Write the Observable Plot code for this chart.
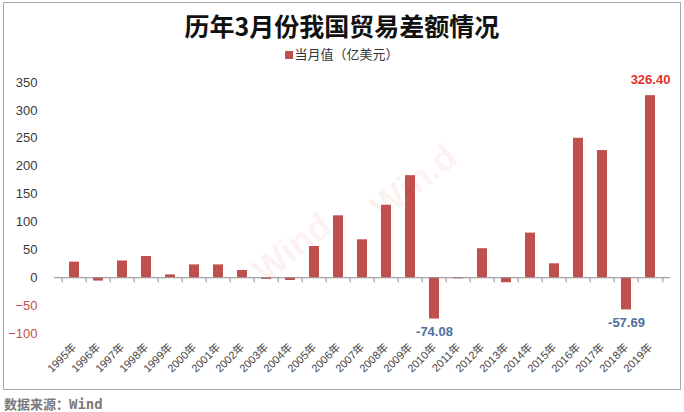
<!DOCTYPE html>
<html><head><meta charset="utf-8">
<script src="https://cdn.jsdelivr.net/npm/d3@7"></script>
<script src="https://cdn.jsdelivr.net/npm/@observablehq/plot@0.6"></script>
<style>
body{margin:0;background:#fff;}
#wrap{position:relative;width:684px;height:412px;overflow:hidden;font-family:"Liberation Sans","Noto Sans CJK SC",sans-serif;background:#fff;}
#frame{position:absolute;left:3px;top:2px;width:676px;height:386px;border:1px solid #a6a6a6;}
#title{position:absolute;left:0;top:10px;width:684px;text-align:center;font:bold 25px/30px "Noto Sans CJK SC","Liberation Sans",sans-serif;color:#111;}
#legend{position:absolute;left:0;top:47px;width:684px;text-align:center;font:13px/16px "Liberation Sans","Noto Sans CJK SC",sans-serif;color:#333;}
#legend .sw{display:inline-block;width:8px;height:8px;background:#c0504d;margin-right:1px;vertical-align:0px;}
#chart{position:absolute;left:0;top:62px;}
#caption{position:absolute;left:4px;top:395px;font:bold 13px/18px "Noto Sans CJK SC",sans-serif;color:#7a7a7a;}
#caption .en{font-family:"DejaVu Sans Mono",monospace;font-size:14px;}
.wm{position:absolute;font:bold 36px/40px "Liberation Sans",sans-serif;color:rgba(215,60,60,0.08);transform:rotate(-38deg);pointer-events:none;white-space:nowrap;}
</style></head>
<body>
<div id="wrap">
  <div id="frame"></div>
  <div id="title">历年3月份我国贸易差额情况</div>
  <div id="legend"><span class="sw"></span>当月值（亿美元）</div>
  <div id="chart"></div>
  <div class="wm" style="left:248px;top:228px;">Wind</div>
  <div class="wm" style="left:365px;top:162px;">Win.d</div>
  <div id="caption">数据来源：<span class="en">Wind</span></div>
</div>
<script>
const years = ["1995年","1996年","1997年","1998年","1999年","2000年","2001年","2002年","2003年","2004年","2005年","2006年","2007年","2008年","2009年","2010年","2011年","2012年","2013年","2014年","2015年","2016年","2017年","2018年","2019年"];
const values = [28, -6, 30, 38, 5, 23, 23, 13, -3, -5, 56, 111, 68, 130, 183, -74.08, -2, 52, -9, 80, 25, 250, 228, -57.69, 326.40];
const yTicksPos = [0, 50, 100, 150, 200, 250, 300, 350];
const yTicksNeg = [-100, -50];
const annotYears = ["2019年", "2010年", "2018年"];
const annotValues = [326.40, -74.08, -57.69];
const annotLabels = ["326.40", "-74.08", "-57.69"];

const data = years.map((y, i) => ({year: y, value: values[i]}));
const annots = annotYears.map((y, i) => ({year: y, value: annotValues[i], label: annotLabels[i]}));

const W = 684, H = 328, mL = 54, mR = 14;
const step = (W - mL - mR) / years.length;
const font = "'Liberation Sans','Noto Sans CJK SC',sans-serif";

const chart = Plot.plot({
  width: W, height: H,
  marginTop: 20, marginBottom: 57, marginLeft: mL, marginRight: mR,
  style: {fontFamily: font, background: "transparent", overflow: "visible"},
  x: {domain: years, paddingInner: 0.6, paddingOuter: 0.3, label: null},
  y: {domain: [-100, 350], label: null},
  marks: [
    Plot.barY(data, {x: "year", y: "value", fill: "#c0504d"}),
    Plot.ruleY([0], {stroke: "#8c8c8c", strokeWidth: 1}),
    Plot.ruleX(years, {x: d => d, y1: 0, y2: -9, dx: -step / 2, stroke: "#8c8c8c"}),
    Plot.ruleX([years[years.length - 1]], {x: d => d, y1: 0, y2: -9, dx: step / 2, stroke: "#8c8c8c"}),
    Plot.axisY(yTicksPos, {tickSize: 0, tickPadding: 17, fontSize: 13, fill: "#3a3a3a", label: null}),
    Plot.axisY(yTicksNeg, {tickSize: 0, tickPadding: 17, fontSize: 13, fill: "#c0504d", label: null}),
    Plot.axisX({anchor: "bottom", tickSize: 0, tickPadding: 12, tickRotate: -45, fontSize: 11, fill: "#444", label: null}),
    Plot.text(annots.filter(d => d.value > 0), {x: "year", y: "value", text: "label", dy: -16, fontSize: 13, fontWeight: "bold", fill: "#e0312b"}),
    Plot.text(annots.filter(d => d.value < 0), {x: "year", y: "value", text: "label", dy: 13, fontSize: 13, fontWeight: "bold", fill: "#4d6f9e"})
  ]
});
document.getElementById("chart").appendChild(chart);
</script>
</body></html>
